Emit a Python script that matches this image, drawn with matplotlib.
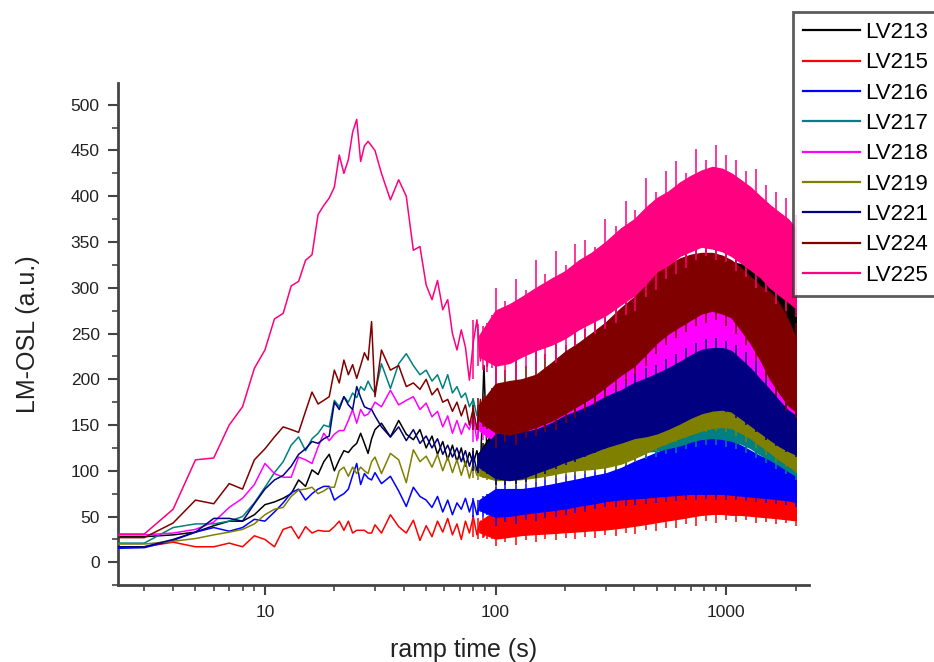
import matplotlib
matplotlib.use("Agg")
import matplotlib.pyplot as plt
from matplotlib.ticker import MultipleLocator, FixedLocator, NullFormatter

plt.rcParams['font.family'] = ['Liberation Sans', 'DejaVu Sans']

# sparse part of the curves (one reading per second up to 30 s, then every 3 s)
t_line = list(range(2, 31)) + list(range(32, 99, 3))
# dense part: lower / upper edge of the solid noise band
t_band = [85, 100, 115, 130, 150, 175, 200, 230, 260, 300, 350, 400, 450, 500, 560, 630,
          700, 780, 870, 960, 1050, 1150, 1270, 1400, 1550, 1700, 1850, 2000]
# single spikes sticking out of the band
t_spk = [80, 84, 88, 92, 96,
         100, 110, 122, 135, 149, 164, 182, 201, 222, 245, 271, 299, 331, 366, 404, 447,
         494, 546, 603, 667, 737, 814, 900, 995, 1099, 1215, 1343, 1484, 1640, 1813, 2000]

names = ['LV213', 'LV215', 'LV216', 'LV217', 'LV218', 'LV219', 'LV221', 'LV224', 'LV225']
colors = ['#000000', '#ff0000', '#0000ff', '#008080', '#ff00ff', '#808000',
          '#000080', '#800000', '#ff0080']

lv213 = [28, 28, 30, 33, 40, 45, 45, 52, 63,
         66, 70, 75, 90, 83, 101, 96, 110, 118, 100,
         112, 122, 120, 126, 130, 141, 130, 119, 135, 145,
         152, 137, 155, 140, 134, 145, 125, 138, 118, 132, 112, 128, 110, 125,
         105, 120, 108, 122, 104, 215, 110, 125, 105]
lv213_lo = [106, 98, 100, 103, 106, 112, 120, 128, 137, 150, 162, 175, 188, 200, 212, 222,
            232, 240, 246, 250, 250, 248, 245, 242, 238, 234, 230, 225]
lv213_hi = [120, 148, 150, 152, 158, 165, 175, 182, 190, 205, 218, 230, 245, 260, 272, 285,
            297, 308, 318, 325, 328, 326, 322, 318, 314, 310, 305, 300]
lv213_spk_top = [125, 120, 130, 122, 135,
                 170, 160, 172, 165, 175, 170, 185, 180, 195, 195, 210, 215, 225, 232, 240, 255,
                 268, 278, 290, 302, 312, 318, 328, 335, 338, 335, 332, 328, 322, 318, 310]
lv213_spk_bot = [104, 100, 102, 98, 100,
                 88, 92, 95, 96, 100, 102, 108, 112, 118, 124, 132, 140, 150, 158, 168, 178,
                 190, 200, 210, 220, 228, 235, 240, 242, 242, 240, 236, 232, 228, 225, 220]

lv215 = [16, 17, 22, 17, 17, 21, 17, 29, 25,
         17, 36, 39, 26, 39, 32, 35, 34, 34, 39,
         45, 35, 45, 32, 35, 35, 35, 32, 32, 41,
         32, 52, 39, 32, 46, 24, 40, 28, 45, 33, 48, 30, 42, 25,
         45, 32, 50, 30, 45, 28, 48, 32, 45]
lv215_lo = [33, 26, 28, 30, 31, 32, 33, 34, 35, 36, 38, 40, 42, 44, 46, 48,
            50, 52, 53, 53, 52, 52, 51, 50, 49, 48, 47, 46]
lv215_hi = [44, 57, 57, 57, 58, 60, 62, 64, 66, 68, 70, 72, 75, 78, 80, 82,
            84, 86, 88, 89, 89, 86, 83, 80, 78, 76, 74, 72]
lv215_spk_top = [52, 48, 50, 50, 55,
                 68, 64, 70, 66, 72, 68, 74, 70, 76, 73, 78, 75, 80, 78, 84, 82,
                 88, 86, 92, 90, 95, 93, 98, 96, 97, 93, 92, 88, 87, 84, 82]
lv215_spk_bot = [28, 26, 27, 25, 26,
                 18, 22, 19, 24, 22, 26, 24, 27, 25, 28, 27, 30, 29, 32, 31, 35,
                 34, 38, 37, 42, 40, 45, 43, 46, 44, 46, 43, 44, 42, 43, 40]

lv216 = [15, 16, 24, 33, 38, 34, 38, 47, 45,
         55, 65, 76, 80, 68, 75, 80, 83, 83, 68,
         72, 75, 80, 95, 108, 85, 97, 92, 90, 98,
         86, 94, 78, 61, 82, 72, 68, 60, 72, 55, 68, 52, 65, 58,
         70, 55, 68, 52, 66, 55, 72, 58, 68]
lv216_lo = [57, 50, 51, 53, 55, 57, 59, 62, 64, 67, 69, 70, 71, 72, 73, 74,
            75, 75, 75, 75, 74, 73, 72, 71, 70, 69, 68, 66]
lv216_hi = [68, 80, 80, 80, 82, 85, 88, 91, 94, 97, 103, 110, 115, 120, 125, 129,
            132, 134, 135, 135, 133, 128, 122, 116, 112, 108, 104, 100]
lv216_spk_top = [70, 68, 72, 75, 76,
                 92, 88, 95, 90, 96, 93, 100, 97, 104, 100, 108, 106, 112, 114, 120, 125,
                 130, 133, 140, 138, 145, 142, 148, 146, 144, 140, 134, 128, 124, 118, 110]
lv216_spk_bot = [50, 52, 50, 52, 50,
                 40, 44, 42, 46, 45, 48, 50, 52, 54, 55, 58, 60, 60, 62, 63, 64,
                 65, 66, 67, 68, 68, 69, 68, 68, 68, 67, 66, 65, 64, 63, 60]

lv217 = [21, 21, 38, 42, 42, 45, 50, 65, 82,
         98, 110, 128, 137, 122, 135, 141, 150, 148, 177,
         170, 181, 175, 185, 180, 192, 188, 198, 190, 185,
         217, 190, 217, 228, 215, 205, 210, 198, 205, 190, 205, 185, 192, 180,
         185, 170, 178, 160, 172, 155, 168, 150, 160]
lv217_lo = [158, 135, 128, 124, 122, 120, 119, 118, 118, 118, 118, 120, 121, 122, 125, 128,
            132, 135, 136, 135, 133, 130, 125, 118, 112, 106, 100, 95]
lv217_hi = [172, 172, 168, 165, 160, 158, 155, 155, 156, 158, 161, 165, 168, 170, 171, 172,
            174, 175, 174, 172, 169, 164, 158, 152, 146, 140, 135, 130]
lv217_spk_top = [180, 172, 176, 170, 175,
                 182, 175, 178, 170, 172, 165, 168, 162, 166, 163, 165, 168, 170, 172, 175, 178,
                 180, 182, 184, 185, 186, 185, 184, 182, 178, 172, 166, 160, 154, 148, 140]
lv217_spk_bot = [155, 152, 150, 148, 145,
                 125, 120, 116, 114, 112, 110, 110, 108, 108, 108, 108, 109, 110, 111, 112, 113,
                 115, 118, 120, 124, 126, 128, 128, 126, 124, 120, 114, 108, 102, 96, 90]

lv218 = [30, 30, 32, 36, 44, 60, 70, 85, 108,
         97, 93, 93, 115, 112, 108, 126, 141, 133, 140,
         144, 144, 155, 167, 152, 167, 160, 162, 168, 175,
         170, 188, 172, 177, 181, 167, 174, 159, 165, 148, 160, 141, 155, 140,
         152, 145, 160, 133, 158, 140, 155, 138, 150]
lv218_lo = [144, 132, 132, 133, 136, 140, 145, 148, 152, 155, 162, 172, 182, 192, 200, 208,
            216, 222, 226, 227, 224, 215, 205, 192, 180, 170, 162, 155]
lv218_hi = [158, 170, 170, 170, 172, 176, 182, 186, 190, 198, 208, 220, 230, 240, 250, 260,
            270, 276, 280, 280, 277, 268, 256, 240, 225, 212, 200, 190]
lv218_spk_top = [162, 160, 158, 160, 165,
                 182, 176, 184, 178, 186, 182, 192, 190, 198, 196, 205, 210, 215, 222, 232, 242,
                 252, 262, 270, 278, 285, 290, 292, 290, 285, 278, 265, 252, 238, 222, 205]
lv218_spk_bot = [132, 135, 134, 136, 134,
                 122, 125, 124, 128, 130, 132, 136, 140, 142, 146, 148, 150, 154, 160, 168, 178,
                 186, 195, 202, 210, 216, 220, 222, 220, 212, 200, 188, 175, 165, 158, 150]

lv219 = [20, 20, 23, 26, 30, 33, 36, 42, 52,
         58, 60, 72, 79, 80, 82, 75, 78, 82, 82,
         100, 104, 94, 104, 97, 104, 100, 97, 110, 115,
         97, 119, 112, 87, 123, 110, 116, 104, 118, 100, 115, 98, 112, 95,
         110, 92, 108, 95, 105, 93, 108, 94, 104]
lv219_lo = [95, 90, 90, 91, 93, 96, 99, 101, 102, 104, 108, 114, 120, 126, 131, 136,
            140, 144, 147, 148, 147, 142, 136, 128, 120, 112, 106, 100]
lv219_hi = [108, 125, 127, 129, 132, 135, 138, 140, 141, 145, 150, 158, 164, 170, 174, 179,
            184, 188, 191, 191, 189, 180, 172, 165, 158, 150, 142, 135]
lv219_spk_top = [112, 108, 110, 112, 118,
                 135, 132, 138, 135, 142, 140, 146, 145, 150, 148, 155, 154, 160, 162, 168, 172,
                 178, 182, 188, 190, 196, 198, 202, 200, 196, 188, 180, 172, 166, 156, 145]
lv219_spk_bot = [92, 90, 92, 90, 92,
                 82, 84, 85, 86, 88, 90, 92, 94, 95, 97, 99, 100, 102, 106, 110, 116,
                 122, 128, 132, 136, 140, 142, 144, 142, 138, 132, 125, 117, 110, 104, 98]

lv221 = [17, 17, 25, 33, 48, 48, 45, 64, 80,
         90, 95, 105, 118, 124, 132, 130, 135, 138, 175,
         167, 181, 172, 167, 192, 180, 170, 168, 167, 160,
         148, 137, 148, 133, 145, 130, 138, 125, 135, 118, 128, 115, 125, 110,
         122, 105, 118, 100, 115, 102, 112, 98, 110]
lv221_lo = [104, 92, 90, 92, 98, 104, 110, 115, 120, 126, 131, 136, 138, 141, 146, 152,
            158, 163, 166, 167, 165, 158, 150, 142, 134, 127, 122, 118]
lv221_hi = [120, 140, 140, 142, 145, 152, 160, 166, 172, 181, 188, 196, 201, 206, 212, 219,
            226, 232, 234, 234, 231, 222, 212, 200, 188, 176, 166, 160]
lv221_spk_top = [122, 118, 120, 125, 130,
                 152, 148, 154, 150, 158, 160, 166, 168, 175, 178, 185, 190, 195, 200, 206, 212,
                 216, 222, 228, 234, 240, 244, 245, 242, 238, 230, 220, 208, 196, 182, 170]
lv221_spk_bot = [100, 98, 100, 96, 94,
                 84, 84, 86, 88, 92, 96, 102, 106, 110, 115, 120, 124, 128, 132, 136, 138,
                 141, 145, 150, 156, 161, 164, 166, 164, 158, 150, 142, 134, 127, 121, 115]

lv224 = [27, 27, 43, 68, 64, 86, 80, 112, 124,
         137, 148, 145, 142, 165, 186, 173, 177, 181, 210,
         196, 221, 205, 216, 201, 215, 229, 221, 263, 181,
         232, 210, 215, 192, 196, 189, 200, 183, 190, 175, 178, 165, 175, 160,
         172, 150, 168, 145, 178, 150, 148, 175, 160]
lv224_lo = [155, 142, 140, 143, 148, 155, 163, 172, 180, 192, 205, 215, 228, 240, 250, 258,
            265, 272, 275, 272, 268, 255, 240, 222, 200, 185, 172, 165]
lv224_hi = [172, 195, 198, 200, 205, 218, 230, 240, 250, 262, 278, 290, 305, 318, 325, 332,
            336, 338, 338, 335, 330, 322, 312, 302, 295, 282, 265, 245]
lv224_spk_top = [172, 180, 182, 178, 190,
                 230, 210, 235, 215, 240, 228, 250, 238, 262, 255, 270, 275, 285, 292, 300, 318,
                 325, 340, 348, 350, 352, 362, 355, 350, 342, 335, 322, 310, 300, 292, 262]
lv224_spk_bot = [145, 145, 148, 146, 144,
                 125, 132, 128, 136, 138, 142, 145, 152, 158, 165, 172, 180, 188, 196, 205, 215,
                 228, 238, 245, 252, 258, 262, 265, 258, 250, 238, 220, 200, 182, 165, 158]

lv225 = [31, 31, 58, 112, 114, 150, 170, 212, 232,
         266, 272, 302, 307, 330, 336, 380, 390, 398, 410,
         445, 425, 440, 470, 484, 438, 455, 460, 455, 450,
         425, 396, 418, 400, 341, 345, 303, 287, 308, 276, 287, 250, 232, 254,
         235, 199, 240, 265, 220, 250, 214, 245, 225]
lv225_lo = [225, 215, 218, 225, 232, 238, 245, 255, 262, 270, 282, 292, 305, 318, 325, 335,
            340, 345, 343, 340, 335, 328, 320, 312, 300, 292, 285, 278]
lv225_hi = [248, 275, 282, 290, 300, 310, 318, 330, 338, 350, 365, 375, 388, 398, 405, 415,
            422, 428, 432, 430, 425, 418, 410, 400, 390, 382, 375, 365]
lv225_spk_top = [265, 260, 258, 262, 270,
                 300, 285, 310, 298, 330, 315, 340, 325, 348, 352, 345, 375, 368, 395, 385, 420,
                 405, 428, 438, 425, 452, 440, 456, 445, 440, 428, 430, 412, 405, 398, 380]
lv225_spk_bot = [200, 215, 210, 208, 212,
                 195, 205, 200, 212, 210, 222, 218, 232, 236, 245, 250, 255, 262, 270, 275, 290,
                 298, 310, 315, 322, 330, 335, 330, 328, 318, 312, 300, 295, 282, 275, 268]

lines = [lv213, lv215, lv216, lv217, lv218, lv219, lv221, lv224, lv225]
lows = [lv213_lo, lv215_lo, lv216_lo, lv217_lo, lv218_lo, lv219_lo, lv221_lo, lv224_lo, lv225_lo]
highs = [lv213_hi, lv215_hi, lv216_hi, lv217_hi, lv218_hi, lv219_hi, lv221_hi, lv224_hi, lv225_hi]
spk_tops = [lv213_spk_top, lv215_spk_top, lv216_spk_top, lv217_spk_top, lv218_spk_top,
            lv219_spk_top, lv221_spk_top, lv224_spk_top, lv225_spk_top]
spk_bots = [lv213_spk_bot, lv215_spk_bot, lv216_spk_bot, lv217_spk_bot, lv218_spk_bot,
            lv219_spk_bot, lv221_spk_bot, lv224_spk_bot, lv225_spk_bot]

fig = plt.figure(figsize=(9.34, 6.62), dpi=100)
ax = fig.add_axes([0.126, 0.116, 0.74, 0.759])

handles = []
for i in range(len(names)):
    h, = ax.plot(t_line, lines[i], color=colors[i], lw=1.1, zorder=2 + i, label=names[i])
    ax.fill_between(t_band, lows[i], highs[i], color=colors[i], lw=1.0, zorder=2 + i)
    ax.vlines(t_spk, spk_bots[i], spk_tops[i], colors=colors[i], lw=1.1, zorder=2 + i)
    handles.append(h)

ax.set_xscale('log')
ax.set_xlim(2.3, 2280)
ax.set_ylim(-25, 524)

ax.spines['top'].set_visible(False)
ax.spines['right'].set_visible(False)
for s in ['left', 'bottom']:
    ax.spines[s].set_color('#444444')
    ax.spines[s].set_linewidth(2)

ax.xaxis.set_major_locator(FixedLocator([10, 100, 1000]))
ax.set_xticklabels(['10', '100', '1000'])
minors = [m * d for d in (1, 10, 100, 1000) for m in range(2, 10) if m * d <= 2000]
ax.xaxis.set_minor_locator(FixedLocator(minors))
ax.xaxis.set_minor_formatter(NullFormatter())
ax.yaxis.set_major_locator(MultipleLocator(50))
ax.yaxis.set_minor_locator(MultipleLocator(25))

ax.tick_params(which='major', direction='out', length=7, width=1.5, color='#444444',
               labelsize=12.5, labelcolor='#222222')
ax.tick_params(which='minor', direction='out', length=4, width=1.2, color='#444444')
ax.tick_params(axis='x', pad=7)
ax.tick_params(axis='y', pad=6)

ax.set_xlabel('ramp time (s)', fontsize=18, color='#222222', labelpad=13)
ax.set_ylabel('LM-OSL (a.u.)', fontsize=18, color='#222222', labelpad=22)

leg = fig.legend(handles=handles, labels=names, loc='upper left',
                 bbox_to_anchor=(793 / 934, 1 - 12 / 662), fontsize=16,
                 frameon=True, fancybox=False, edgecolor='#333333',
                 handlelength=2.55, handletextpad=0.25, labelspacing=0.42,
                 borderpad=0.45, borderaxespad=0)
leg.get_frame().set_linewidth(2)
for ln in leg.get_lines():
    ln.set_linewidth(1.6)

fig.savefig('out.png', dpi=100)
